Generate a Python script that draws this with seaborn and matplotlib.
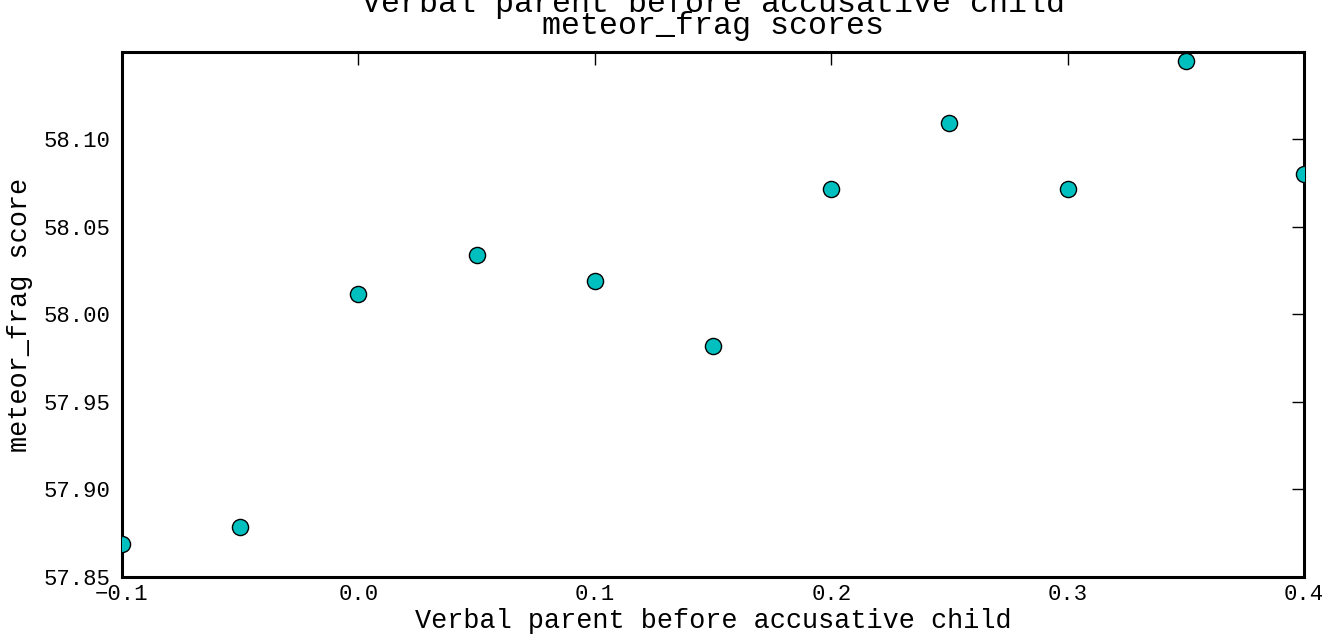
import matplotlib
matplotlib.use("Agg")
import matplotlib.pyplot as plt
import seaborn as sns
import pandas as pd
from matplotlib.ticker import FuncFormatter

weights = [-0.1, -0.05, 0.0, 0.05, 0.1, 0.15, 0.2, 0.25, 0.3, 0.35, 0.4]
scores = [57.8687, 57.8785, 58.0116, 58.0339, 58.0190, 57.9819,
          58.0716, 58.1093, 58.0714, 58.1443, 58.0802]
x_ticks = [-0.1, 0.0, 0.1, 0.2, 0.3, 0.4]
y_ticks = [57.85, 57.90, 57.95, 58.00, 58.05, 58.10]

df = pd.DataFrame({'weight': weights, 'score': scores})

sns.set_style("white")
plt.rcParams['font.family'] = ['Liberation Mono', 'DejaVu Sans Mono']
plt.rcParams['text.color'] = 'black'
plt.rcParams['axes.labelcolor'] = 'black'

fig = plt.figure(figsize=(13.32, 6.4), dpi=100)
ax = fig.add_axes([122 / 1332, 1 - 577 / 640, (1304 - 122) / 1332, (577 - 52) / 640])

sns.scatterplot(data=df, x='weight', y='score', ax=ax, color='#00BFBF',
                edgecolor='black', linewidth=1.0, s=135, zorder=3)

ax.set_xlim(-0.1, 0.4)
ax.set_ylim(57.85, 58.1497)
ax.set_xticks(x_ticks)
ax.set_yticks(y_ticks)
ax.xaxis.set_major_formatter(FuncFormatter(lambda v, p: f'{v:.1f}'.replace('-', '\u2212')))
ax.yaxis.set_major_formatter(FuncFormatter(lambda v, p: f'{v:.2f}'))
ax.tick_params(direction='in', length=9, width=1, labelsize=16, pad=8,
               top=True, right=True, colors='black')
ax.tick_params(axis='x', pad=5)
for sp in ax.spines.values():
    sp.set_linewidth(2.2)
    sp.set_color('black')

ax.set_xlabel('Verbal parent before accusative child', fontsize=19.4, labelpad=2)
ax.set_ylabel('meteor_frag score', fontsize=19.4, labelpad=8)
ax.set_title('Verbal parent before accusative child\nmeteor_frag scores',
             fontsize=22.8, linespacing=0.66, pad=13)

fig.savefig('out.png', dpi=100)
